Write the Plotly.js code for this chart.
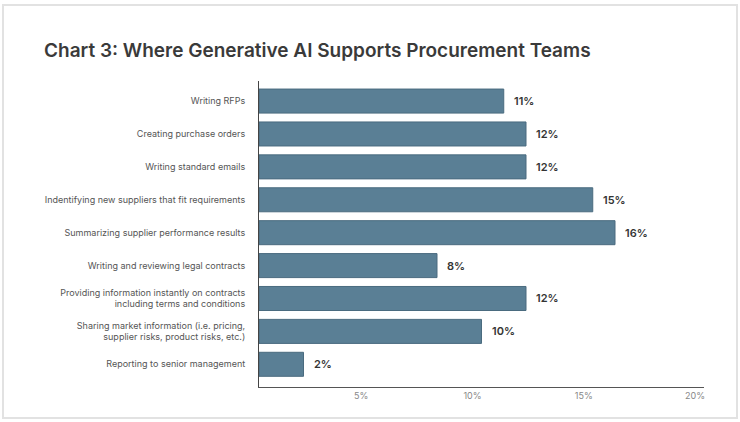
<!DOCTYPE html>
<html>
<head>
<meta charset="utf-8">
<script src="https://cdn.plot.ly/plotly-3.0.1.min.js"></script>
<style>
  body { margin: 0; background: #fff; }
  #frame { position: absolute; left: 2px; top: 4px; width: 732px; height: 411px;
           border: 2px solid #e2e2e2; pointer-events: none; }
</style>
</head>
<body>
<div id="chart" style="width:740px;height:422px;"></div>
<div id="frame"></div>
<script>
const tasks = [
  'Writing RFPs',
  'Creating purchase orders',
  'Writing standard emails',
  'Indentifying new suppliers that fit requirements',
  'Summarizing supplier performance results',
  'Writing and reviewing legal contracts',
  'Providing information instantly on contracts<br>including terms and conditions',
  'Sharing market information (i.e. pricing,<br>supplier risks, product risks, etc.)',
  'Reporting to senior management'
];
const shares = [11, 12, 12, 15, 16, 8, 12, 10, 2];
const tickValues = [5, 10, 15, 20];
const tickLabels = ['5%', '10%', '15%', '20%'];

const bars = {
  type: 'bar',
  orientation: 'h',
  x: shares,
  y: tasks,
  marker: { color: '#5a7f95', line: { color: '#4a6b7f', width: 1 } },
  hoverinfo: 'x+y'
};

const labels = shares.map((v, i) => ({
  x: v,
  y: tasks[i],
  text: v + '%',
  showarrow: false,
  xanchor: 'left',
  xshift: 8,
  font: { family: 'Inter', size: 11, color: '#333', weight: 600 }
}));

Plotly.newPlot('chart', [bars], {
  width: 740,
  height: 422,
  margin: { l: 259, r: 36, t: 81, b: 35 },
  paper_bgcolor: '#fff',
  plot_bgcolor: '#fff',
  showlegend: false,
  bargap: 0.27,
  title: {
    text: 'Chart 3: Where Generative AI Supports Procurement Teams',
    x: 44 / 740, xref: 'container', xanchor: 'left',
    y: 1 - 50 / 422, yref: 'container', yanchor: 'middle',
    font: { family: 'Inter', size: 19, color: '#3a3a3a', weight: 600 }
  },
  xaxis: {
    range: [0, 20],
    tickvals: tickValues,
    ticktext: tickLabels,
    ticklabelshift: -9,
    showgrid: false,
    zeroline: false,
    showline: true,
    linecolor: '#555',
    linewidth: 1,
    ticks: '',
    tickfont: { family: 'Inter', size: 9, color: '#888' },
    fixedrange: true
  },
  yaxis: {
    range: [8.69, -0.61],
    showgrid: false,
    showline: true,
    linecolor: '#444',
    linewidth: 1,
    ticks: 'outside',
    ticklen: 11,
    tickcolor: 'rgba(0,0,0,0)',
    tickfont: { family: 'Inter', size: 9, color: '#555' },
    fixedrange: true
  },
  annotations: labels
}, { displayModeBar: false, staticPlot: true });
</script>
</body>
</html>
